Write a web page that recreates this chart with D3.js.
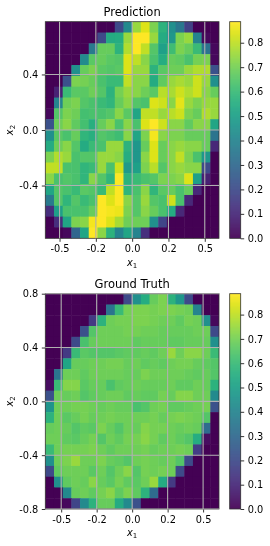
<!DOCTYPE html>
<meta charset="utf-8">
<style>
body { margin: 0; background: #fff; }
svg { display: block; filter: blur(0.35px); }
text { font-family: "DejaVu Sans", sans-serif; fill: #000; }
.axis .domain { display: none; }
.axis line { stroke: #000; stroke-width: 0.8; }
.axis text { font-size: 9.8px; }
</style>
<svg width="270" height="546"></svg>
<script src="https://d3js.org/d3.v7.min.js"></script>
<script>

var xTicks = [-0.5, -0.25, 0, 0.25, 0.5];
var xTickLabels = ["-0.5", "-0.2", "0.0", "0.2", "0.5"];
var predYTicks = [-0.4, 0, 0.4];
var predYLabels = ["-0.4", "0.0", "0.4"];
var truthYTicks = [-0.8, -0.4, 0, 0.4, 0.8];
var truthYLabels = ["-0.8", "-0.4", "0.0", "0.4", "0.8"];
var colorTicks = [0, 0.1, 0.2, 0.3, 0.4, 0.5, 0.6, 0.7, 0.8];
var vmax = 0.886;

var predValues = [
  [0,0,0,0,0,0,0,0,.2,.42,.75,.84,.71,.57,.44,.35,.17,0,0,0],
  [0,0,0,0,0,0,.2,.54,.55,.75,.886,.886,.75,.54,.47,.71,.75,.4,.02,0],
  [0,0,0,0,0,.36,.68,.68,.57,.78,.886,.8,.65,.5,.61,.71,.68,.6,.34,.02],
  [0,0,0,0,.42,.66,.68,.66,.65,.84,.8,.73,.63,.55,.68,.67,.63,.7,.71,.02],
  [0,0,0,.44,.68,.71,.66,.65,.66,.84,.75,.75,.57,.66,.69,.69,.75,.78,.78,.22],
  [0,0,.22,.71,.7,.68,.63,.6,.6,.8,.73,.73,.54,.67,.75,.77,.75,.82,.75,.44],
  [0,.08,.6,.66,.66,.69,.65,.57,.7,.75,.73,.69,.66,.79,.77,.82,.78,.82,.73,.68],
  [0,.4,.69,.71,.65,.63,.6,.58,.68,.73,.65,.63,.84,.82,.73,.85,.75,.71,.75,.75],
  [.02,.65,.71,.69,.62,.63,.63,.65,.73,.66,.52,.8,.8,.75,.79,.82,.71,.68,.78,.75],
  [.22,.69,.73,.67,.62,.56,.68,.73,.63,.73,.63,.84,.886,.82,.73,.73,.67,.73,.73,.52],
  [.44,.66,.63,.68,.58,.56,.65,.63,.61,.73,.52,.71,.87,.73,.71,.71,.68,.68,.68,.34],
  [.54,.69,.73,.65,.54,.6,.63,.75,.75,.57,.47,.68,.84,.68,.73,.75,.73,.73,.68,.1],
  [.71,.78,.75,.63,.65,.65,.75,.75,.73,.55,.47,.73,.84,.68,.73,.8,.71,.63,.47,0],
  [.8,.8,.63,.63,.58,.6,.75,.63,.82,.48,.5,.71,.79,.65,.73,.75,.73,.73,.2,0],
  [.73,.63,.65,.63,.58,.73,.65,.58,.886,.57,.6,.63,.65,.71,.71,.73,.84,.5,.08,0],
  [.52,.65,.63,.6,.66,.65,.6,.8,.886,.58,.63,.73,.58,.66,.68,.63,.68,.1,0,0],
  [.36,.65,.58,.65,.6,.63,.886,.84,.886,.73,.65,.75,.65,.63,.82,.63,.1,0,0,0],
  [.12,.5,.63,.63,.63,.68,.886,.87,.86,.71,.65,.73,.68,.63,.54,.1,0,0,0,0],
  [0,.12,.52,.71,.73,.87,.886,.84,.77,.69,.69,.69,.44,.18,0,0,0,0,0,0],
  [0,0,.02,.29,.52,.886,.73,.57,.4,.52,.4,.12,0,0,0,0,0,0,0,0]
];

var truthValues = [
  [0,0,0,0,0,0,0,0,0,.2,.44,.55,.68,.71,.57,.47,.2,0,0,0],
  [0,0,0,0,0,0,0,.34,.6,.7,.71,.71,.7,.71,.71,.7,.69,.4,0,0],
  [0,0,0,0,0,.15,.57,.69,.7,.7,.71,.71,.7,.69,.69,.67,.7,.69,.44,.02],
  [0,0,0,0,.22,.65,.69,.69,.69,.7,.7,.69,.69,.68,.68,.68,.68,.69,.69,.2],
  [0,0,0,.2,.63,.68,.69,.69,.69,.69,.67,.68,.68,.68,.67,.67,.68,.68,.68,.44],
  [0,0,.15,.6,.66,.65,.65,.65,.66,.67,.67,.68,.67,.69,.75,.69,.73,.73,.69,.6],
  [0,0,.52,.68,.68,.69,.69,.7,.7,.68,.69,.67,.68,.67,.69,.7,.7,.68,.67,.65],
  [0,.34,.69,.69,.67,.69,.69,.69,.69,.68,.68,.71,.69,.69,.69,.69,.68,.67,.68,.65],
  [.03,.6,.72,.72,.66,.68,.68,.63,.67,.68,.69,.68,.68,.68,.69,.67,.67,.69,.68,.57],
  [.22,.69,.68,.69,.65,.67,.68,.69,.69,.67,.68,.67,.67,.7,.68,.72,.72,.69,.69,.42],
  [.46,.69,.69,.7,.7,.69,.68,.69,.68,.68,.63,.65,.69,.7,.67,.67,.68,.69,.7,.22],
  [.57,.69,.66,.68,.7,.68,.69,.7,.69,.69,.69,.69,.7,.68,.7,.71,.7,.69,.65,0],
  [.68,.69,.68,.65,.67,.66,.71,.68,.65,.69,.68,.72,.7,.7,.69,.68,.69,.68,.31,0],
  [.69,.69,.67,.66,.68,.7,.65,.69,.67,.7,.7,.73,.7,.67,.69,.67,.65,.55,.03,0],
  [.6,.69,.7,.7,.7,.71,.69,.67,.69,.69,.69,.7,.68,.69,.69,.7,.69,.16,0,0],
  [.44,.69,.71,.75,.69,.69,.71,.68,.67,.65,.69,.7,.69,.68,.69,.65,.2,0,0,0],
  [.2,.67,.69,.69,.69,.66,.69,.65,.69,.73,.65,.7,.69,.7,.69,.2,0,0,0,0],
  [0,.44,.67,.69,.68,.73,.68,.66,.7,.67,.66,.69,.75,.54,.15,0,0,0,0,0],
  [0,0,.42,.68,.69,.67,.7,.73,.67,.71,.67,.57,.31,0,0,0,0,0,0,0],
  [0,0,.02,.18,.42,.57,.68,.68,.54,.42,.22,0,0,0,0,0,0,0,0,0]
];

var svg = d3.select("svg");
var color = d3.scaleSequential(d3.interpolateViridis).domain([0, vmax]);

function subLabel(sel, sub) {
  sel.append("tspan").attr("font-style", "italic").text("x");
  sel.append("tspan").attr("font-size", 7).attr("dy", 2).text(sub);
}

function panel(title, values, top, height, xDomain, yDomain, yTicks, yLabels) {
  var left = 45.3, width = 173.7;
  var g = svg.append("g").attr("transform", "translate(" + left + "," + top + ")");

  var col = d3.scaleBand().domain(d3.range(20)).range([0, width]);
  var row = d3.scaleBand().domain(d3.range(20)).range([0, height]);
  var x = d3.scaleLinear().domain(xDomain).range([0, width]);
  var y = d3.scaleLinear().domain(yDomain).range([height, 0]);

  // cells overlap a little so no white seams show through
  g.append("g").selectAll("g")
    .data(values)
    .enter().append("g")
    .selectAll("rect")
    .data(function(d, i) { return d.map(function(v, j) { return {v: v, i: i, j: j}; }); })
    .enter().append("rect")
      .attr("x", function(d) { return col(d.j); })
      .attr("y", function(d) { return row(d.i); })
      .attr("width", function(d) { return col.bandwidth() + (d.j < 19 ? 0.5 : 0); })
      .attr("height", function(d) { return row.bandwidth() + (d.i < 19 ? 0.5 : 0); })
      .attr("fill", function(d) { return color(d.v); });

  g.append("g")
    .attr("class", "axis")
    .attr("transform", "translate(0," + height + ")")
    .call(d3.axisBottom(x).tickValues(xTicks).tickSize(3.5).tickPadding(3.5)
      .tickFormat(function(d, i) { return xTickLabels[i]; }));

  g.append("g")
    .attr("class", "axis")
    .call(d3.axisLeft(y).tickValues(yTicks).tickSize(3.5).tickPadding(3.5)
      .tickFormat(function(d, i) { return yLabels[i]; }));

  // spines first, the grid goes over them like in the original
  g.append("rect")
    .attr("width", width).attr("height", height)
    .attr("fill", "none").attr("stroke", "#333").attr("stroke-width", 0.8);

  g.append("g").selectAll("line")
    .data(xTicks)
    .enter().append("line")
      .attr("x1", x).attr("x2", x)
      .attr("y1", 0).attr("y2", height)
      .attr("stroke", "#b0b0b0").attr("stroke-width", 1.1);

  g.append("g").selectAll("line")
    .data(yTicks)
    .enter().append("line")
      .attr("y1", y).attr("y2", y)
      .attr("x1", 0).attr("x2", width)
      .attr("stroke", "#b0b0b0").attr("stroke-width", 1.1);

  g.append("text")
    .attr("x", width / 2).attr("y", -6)
    .attr("text-anchor", "middle").attr("font-size", 11.5)
    .text(title);

  g.append("text")
    .attr("x", width / 2).attr("y", height + 27.5)
    .attr("text-anchor", "middle").attr("font-size", 9.8)
    .call(subLabel, "1");

  g.append("text")
    .attr("transform", "translate(-32," + (height / 2) + ") rotate(-90)")
    .attr("text-anchor", "middle").attr("font-size", 9.8)
    .call(subLabel, "2");

  // colorbar
  var cb = svg.append("g").attr("transform", "translate(229.7," + top + ")");
  var c = d3.scaleLinear().domain([0, vmax]).range([height, 0]);
  var steps = d3.range(0, height);

  cb.append("g").selectAll("rect")
    .data(steps)
    .enter().append("rect")
      .attr("y", function(d) { return d; })
      .attr("width", 11)
      .attr("height", function(d) { return Math.min(1.2, height - d); })
      .attr("fill", function(d) { return color(c.invert(d + 0.5)); });

  cb.append("rect")
    .attr("width", 11).attr("height", height)
    .attr("fill", "none").attr("stroke", "#333").attr("stroke-width", 0.8);

  cb.append("g")
    .attr("class", "axis")
    .attr("transform", "translate(11,0)")
    .call(d3.axisRight(c).tickValues(colorTicks).tickSize(3.5).tickPadding(3.5).tickFormat(d3.format(".1f")));
}

panel("Prediction", predValues, 21.7, 216.6, [-0.598, 0.598], [-0.78, 0.78], predYTicks, predYLabels);
panel("Ground Truth", truthValues, 293.7, 215.3, [-0.612, 0.612], [-0.8, 0.8], truthYTicks, truthYLabels);

</script>
